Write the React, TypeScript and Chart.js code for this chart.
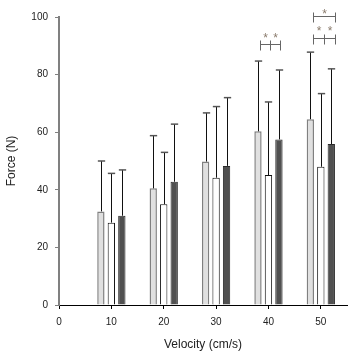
import React, { useEffect, useRef } from "react";
import { Chart, registerables } from "chart.js";

Chart.register(...registerables);

const categories = [10, 20, 30, 40, 50];
const groupA = [32.5, 40.5, 49.8, 60.3, 64.5];
const groupASD = [17.5, 18.3, 16.9, 24.4, 23.3];
const groupB = [28.6, 35.0, 44.2, 45.1, 48.0];
const groupBSD = [17.1, 18.0, 24.7, 25.4, 25.4];
const groupC = [31.0, 42.8, 48.3, 57.5, 55.9];
const groupCSD = [15.9, 20.0, 23.7, 24.1, 26.1];

const xTicks = [0, 10, 20, 30, 40, 50];
const yTicks = [0, 20, 40, 60, 80, 100];

// significance brackets: start, end, middle tick (or null), height, label
const bracketStart = [38.4, 48.5, 48.5];
const bracketEnd = [42.2, 52.7, 52.7];
const bracketMid: (number | null)[] = [40.3, 50.6, null];
const bracketY = [90.5, 92.8, 100.4];
const bracketStarY = [93.8, 96.3, 102.1];

const FONT = "'Liberation Sans', Arial, sans-serif";

const errorBarPlugin = {
  id: "errorBars",
  afterDatasetsDraw(chart: any) {
    const ctx = chart.ctx;
    const yScale = chart.scales.y;
    const sds = [groupASD, groupBSD, groupCSD];
    chart.data.datasets.forEach((ds: any, di: number) => {
      const meta = chart.getDatasetMeta(di);
      meta.data.forEach((bar: any, i: number) => {
        const v = ds.data[i].y;
        const top = yScale.getPixelForValue(v + sds[di][i]);
        const base = yScale.getPixelForValue(v);
        const x = Math.round(bar.x) + 0.5;
        const half = bar.width / 2;
        ctx.save();
        ctx.strokeStyle = "#111";
        ctx.lineWidth = 1;
        ctx.beginPath();
        ctx.moveTo(x, base);
        ctx.lineTo(x, top);
        ctx.stroke();
        ctx.strokeStyle = "#555";
        ctx.lineWidth = 1.5;
        ctx.beginPath();
        ctx.moveTo(x - half, top);
        ctx.lineTo(x + half, top);
        ctx.stroke();
        ctx.restore();
      });
    });
  },
};

const bracketPlugin = {
  id: "brackets",
  afterDraw(chart: any) {
    const ctx = chart.ctx;
    const xs = chart.scales.x;
    const ys = chart.scales.y;
    ctx.save();
    ctx.strokeStyle = "#666";
    ctx.lineWidth = 1;
    ctx.fillStyle = "#8a7b6c";
    ctx.font = `12px ${FONT}`;
    ctx.textAlign = "center";
    ctx.textBaseline = "alphabetic";
    for (let i = 0; i < bracketStart.length; i++) {
      const x1 = Math.round(xs.getPixelForValue(bracketStart[i])) + 0.5;
      const x2 = Math.round(xs.getPixelForValue(bracketEnd[i])) + 0.5;
      const y = Math.round(ys.getPixelForValue(bracketY[i])) + 0.5;
      const sy = ys.getPixelForValue(bracketStarY[i]);
      ctx.beginPath();
      ctx.moveTo(x1, y);
      ctx.lineTo(x2, y);
      ctx.moveTo(x1, y - 4);
      ctx.lineTo(x1, y + 6);
      ctx.moveTo(x2, y - 4);
      ctx.lineTo(x2, y + 6);
      const mid = bracketMid[i];
      if (mid !== null) {
        const xm = Math.round(xs.getPixelForValue(mid)) + 0.5;
        ctx.moveTo(xm, y - 4);
        ctx.lineTo(xm, y + 6);
        ctx.stroke();
        ctx.fillText("*", (x1 + xm) / 2, sy + 7);
        ctx.fillText("*", (xm + x2) / 2, sy + 7);
      } else {
        ctx.stroke();
        ctx.fillText("*", (x1 + x2) / 2, sy + 7);
      }
    }
    ctx.restore();
  },
};

export default function App() {
  const ref = useRef<HTMLCanvasElement | null>(null);
  useEffect(() => {
    document.body.style.margin = "0";
    if (!ref.current) return;
    const mk = (vals: number[]) => vals.map((v, i) => ({ x: categories[i], y: v }));
    const chart = new Chart(ref.current, {
      type: "bar",
      data: {
        datasets: [
          {
            data: mk(groupA) as any,
            backgroundColor: "#e0e0e0",
            borderColor: "#808080",
            borderWidth: 1.5,
            categoryPercentage: 0.6,
            barPercentage: 0.7,
          },
          {
            data: mk(groupB) as any,
            backgroundColor: "#ffffff",
            borderColor: "#111111",
            borderWidth: 1,
            categoryPercentage: 0.6,
            barPercentage: 0.7,
          },
          {
            data: mk(groupC) as any,
            backgroundColor: "#505050",
            borderColor: "#2a2a2a",
            borderWidth: 1,
            categoryPercentage: 0.6,
            barPercentage: 0.7,
          },
        ],
      },
      options: {
        animation: false,
        responsive: false,
        layout: { padding: { top: 17, right: 11, left: 0, bottom: 0 } },
        plugins: { legend: { display: false }, tooltip: { enabled: false } },
        scales: {
          x: {
            type: "linear",
            min: 0,
            max: 55,
            offset: false,
            afterFit: (s: any) => {
              s.height = 51;
            },
            afterBuildTicks: (s: any) => {
              s.ticks = xTicks.map((v) => ({ value: v }));
            },
            grid: {
              offset: false,
              drawOnChartArea: false,
              drawTicks: true,
              tickLength: 4,
              tickColor: "#000",
            },
            border: { display: true, color: "#000", width: 1 },
            ticks: { padding: 7, color: "#222", font: { size: 10, family: FONT } },
            title: {
              display: true,
              text: "Velocity (cm/s)",
              color: "#222",
              font: { size: 12, family: FONT },
            },
          },
          y: {
            type: "linear",
            min: 0,
            max: 100,
            afterFit: (s: any) => {
              s.width = 59;
            },
            afterBuildTicks: (s: any) => {
              s.ticks = yTicks.map((v) => ({ value: v }));
            },
            grid: {
              drawOnChartArea: false,
              drawTicks: true,
              tickLength: 4,
              tickColor: "#808080",
            },
            border: { display: true, color: "#808080", width: 2 },
            ticks: { padding: 7, color: "#222", font: { size: 10, family: FONT } },
            title: {
              display: true,
              text: "Force (N)",
              color: "#222",
              font: { size: 12, family: FONT },
            },
          },
        },
      },
      plugins: [errorBarPlugin, bracketPlugin],
    });
    return () => chart.destroy();
  }, []);
  return (
    <div style={{ width: 358, height: 356 }}>
      <canvas ref={ref} width={358} height={356} />
    </div>
  );
}
